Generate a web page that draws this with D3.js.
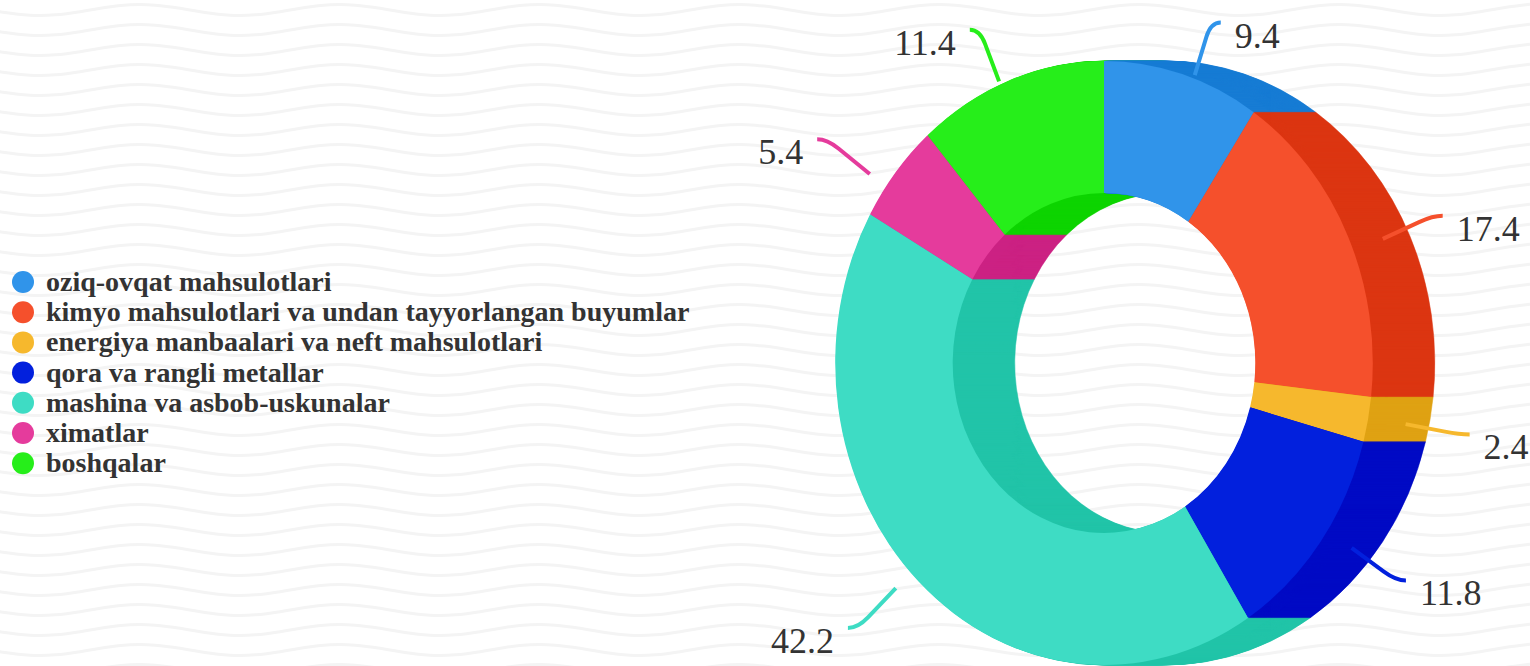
<!DOCTYPE html>
<html lang="uz">
<head>
<meta charset="utf-8">
<title>Eksport tarkibi</title>
<style>
  body { margin: 0; background: #fff; }
  svg { display: block; }
  .legend text { font: bold 28px "Liberation Serif", "Times New Roman", serif; fill: #333; }
  .lbl { font: 36px "Liberation Serif", "Times New Roman", serif; fill: #333; }
  .lead { fill: none; stroke-width: 4px; }
</style>
</head>
<body>
<svg width="1530" height="666"></svg>
<script src="https://cdn.jsdelivr.net/npm/d3@7/dist/d3.min.js"></script>
<script>
// data (percent)
var categories = [
  "oziq-ovqat mahsulotlari",
  "kimyo mahsulotlari va undan tayyorlangan buyumlar",
  "energiya manbaalari va neft mahsulotlari",
  "qora va rangli metallar",
  "mashina va asbob-uskunalar",
  "ximatlar",
  "boshqalar"
];
var values = [9.4, 17.4, 2.4, 11.8, 42.2, 5.4, 11.4];
var frontColors = ["#3094ea", "#f5502c", "#f6b82d", "#0220dd", "#3edcc4", "#e53b9c", "#26ee1a"];
var backColors  = ["#177cd4", "#dc3612", "#dfa213", "#000bc5", "#22c4a9", "#cc2283", "#0ed400"];

var svg = d3.select("svg");
var W = 1530, H = 666;

// wavy background
var bg = svg.append("g");
var wave = d3.line().curve(d3.curveBasis);
for (var y0 = -10; y0 < H + 20; y0 += 20) {
  var pts = [];
  for (var x = -20; x <= W + 20; x += 25) {
    pts.push([x, y0 + 6 * Math.sin((x - 40) / 200 * 2 * Math.PI + Math.PI / 2)]);
  }
  bg.append("path").attr("d", wave(pts))
    .attr("fill", "none").attr("stroke", "#f4f4f4").attr("stroke-width", 3);
}

// donut: dark extruded side (stack of offset copies), then light front face
var pie = d3.pie().sort(null).value(function(d) { return d; });
var arcs = pie(values);
var rOut = 302, rIn = 170, sx = 0.89;
var arc = d3.arc().innerRadius(rIn).outerRadius(rOut);

var cx = 1104, cy = 363, depth = 62;

var side = svg.append("g");
for (var dd = depth; dd > 0; dd -= 1) {
  side.append("g")
     .attr("transform", "translate(" + (cx + dd) + "," + cy + ") scale(" + sx + ",1)")
     .selectAll("path").data(arcs).enter()
     .append("path")
     .attr("d", arc)
     .attr("fill", function(d, i) { return backColors[i]; })
     .attr("stroke", function(d, i) { return backColors[i]; })
     .attr("stroke-width", 0.6);
}

svg.append("g")
   .attr("transform", "translate(" + cx + "," + cy + ") scale(" + sx + ",1)")
   .selectAll("path").data(arcs).enter()
   .append("path")
   .attr("d", arc)
   .attr("fill", function(d, i) { return frontColors[i]; });

// value labels with leader lines
var lx = 1106, ly = 367;
function pt(r, a) { return [lx + r * Math.sin(a), ly - r * Math.cos(a)]; }

var labels = svg.append("g");
arcs.forEach(function(d, i) {
  var a = (d.startAngle + d.endAngle) / 2;
  var dir = Math.sin(a) >= 0 ? 1 : -1;
  var s = pt(305, a), m = pt(345, a), b = pt(360, a);
  var e = [b[0] + dir * 10, b[1]];
  labels.append("path")
    .attr("class", "lead")
    .attr("stroke", frontColors[i])
    .attr("d", "M" + s + "L" + m + "Q" + b + " " + e);
  labels.append("text")
    .attr("class", "lbl")
    .attr("x", e[0] + dir * 14)
    .attr("y", e[1] + 25)
    .attr("text-anchor", dir > 0 ? "start" : "end")
    .text(values[i]);
});

// legend
var legend = svg.append("g").attr("class", "legend");
var ly0 = 282, lstep = 30.2;
categories.forEach(function(c, i) {
  legend.append("circle")
    .attr("cx", 23).attr("cy", ly0 + i * lstep).attr("r", 11)
    .attr("fill", frontColors[i]);
  legend.append("text")
    .attr("x", 46).attr("y", ly0 + i * lstep + 9)
    .text(c);
});
</script>
</body>
</html>
